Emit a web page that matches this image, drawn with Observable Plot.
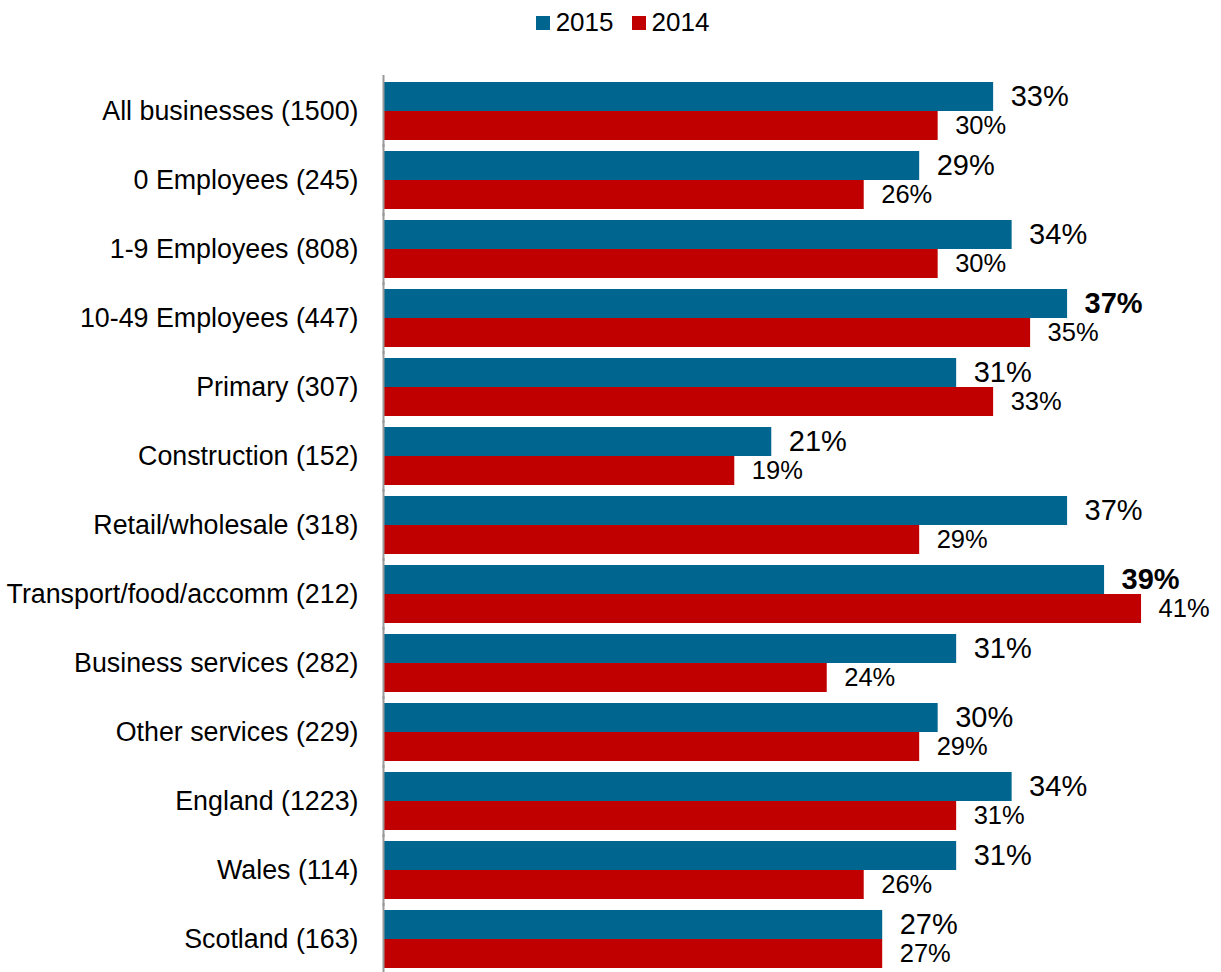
<!DOCTYPE html>
<html>
<head>
<meta charset="utf-8">
<script src="https://cdn.jsdelivr.net/npm/d3@7"></script>
<script src="https://cdn.jsdelivr.net/npm/@observablehq/plot@0.6"></script>
<style>
  html, body { margin: 0; padding: 0; background: #fff; }
  body { font-family: "Liberation Sans", Arial, sans-serif; width: 1221px; }
  .legend { height: 45px; display: flex; justify-content: center; align-items: center; font-size: 26px; color: #000; padding-left: 24px; }
  .legend .item { display: flex; align-items: center; margin: 0 9px; }
  .legend .sw { width: 14px; height: 14px; margin-right: 6px; }
</style>
</head>
<body>
<div class="legend" id="legend"></div>
<div id="chart"></div>
<script>
const categories = [
  "All businesses (1500)",
  "0 Employees (245)",
  "1-9 Employees (808)",
  "10-49 Employees (447)",
  "Primary (307)",
  "Construction (152)",
  "Retail/wholesale (318)",
  "Transport/food/accomm (212)",
  "Business services (282)",
  "Other services (229)",
  "England (1223)",
  "Wales (114)",
  "Scotland (163)"
];
const years = ["2015", "2014"];
const values2015 = [33, 29, 34, 37, 31, 21, 37, 39, 31, 30, 34, 31, 27];
const values2014 = [30, 26, 30, 35, 33, 19, 29, 41, 24, 29, 31, 26, 27];
const boldCategories2015 = ["10-49 Employees (447)", "Transport/food/accomm (212)"];
const colors = ["#00668F", "#C00000"];

const data = [];
categories.forEach((c, i) => {
  data.push({category: c, year: "2015", value: values2015[i], bold: boldCategories2015.includes(c)});
  data.push({category: c, year: "2014", value: values2014[i], bold: false});
});

// legend
const legend = document.getElementById("legend");
years.forEach((y, i) => {
  const item = document.createElement("div");
  item.className = "item";
  const sw = document.createElement("div");
  sw.className = "sw";
  sw.style.background = colors[i];
  const t = document.createElement("span");
  t.textContent = y;
  item.appendChild(sw);
  item.appendChild(t);
  legend.appendChild(item);
});

const chart = Plot.plot({
  width: 1221,
  height: 927,
  marginLeft: 383,
  marginRight: 6,
  marginTop: 34,
  marginBottom: 2,
  style: {fontFamily: "'Liberation Sans', Arial, sans-serif", color: "#000", background: "#fff"},
  x: {domain: [0, 45], axis: null},
  y: {domain: years, axis: null, padding: 0},
  fy: {domain: categories, paddingInner: 0.16, paddingOuter: 0, axis: null},
  color: {domain: years, range: colors},
  marks: [
    Plot.axisFy({anchor: "left", fontSize: 26.8, tickSize: 0, tickPadding: 25, dy: 0, label: null, fill: "#000"}),
    Plot.barX(data, {x: "value", y: "year", fy: "category", fill: "year"}),
    Plot.ruleX([0], {stroke: "#999", strokeWidth: 2, insetTop: -7, insetBottom: -7}),
    Plot.text(data.filter(d => d.year === "2015" && !d.bold), {
      x: "value", y: "year", fy: "category", text: d => d.value + "%",
      textAnchor: "start", dx: 17, fontSize: 29, fill: "#000"
    }),
    Plot.text(data.filter(d => d.year === "2015" && d.bold), {
      x: "value", y: "year", fy: "category", text: d => d.value + "%",
      textAnchor: "start", dx: 17, fontSize: 29, fontWeight: "bold", fill: "#000"
    }),
    Plot.text(data.filter(d => d.year === "2014"), {
      x: "value", y: "year", fy: "category", text: d => d.value + "%",
      textAnchor: "start", dx: 17, fontSize: 25.5, fill: "#000"
    })
  ]
});
document.getElementById("chart").appendChild(chart);
</script>
</body>
</html>
